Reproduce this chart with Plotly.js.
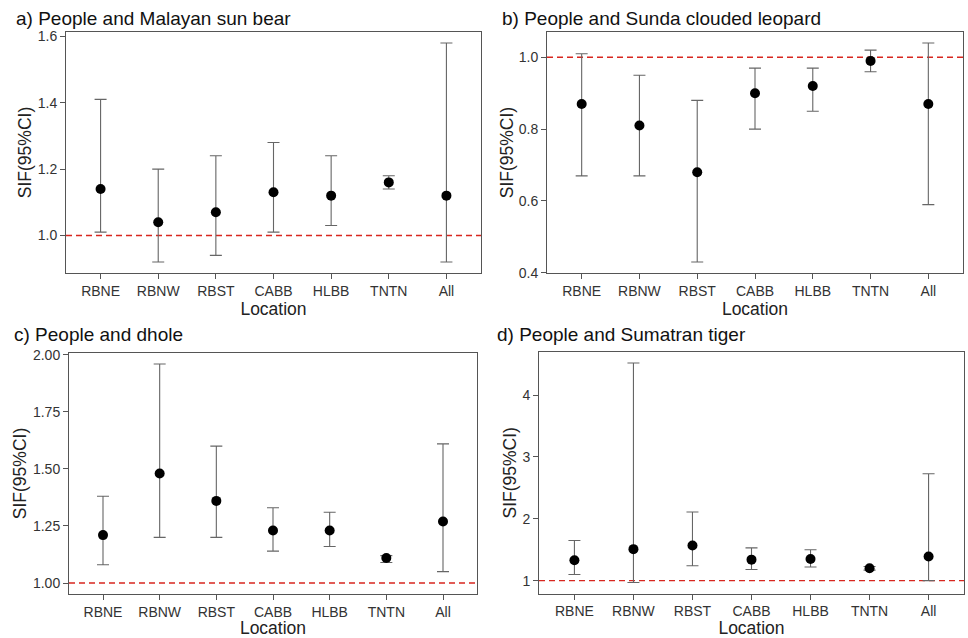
<!DOCTYPE html>
<html><head><meta charset="utf-8">
<script src="https://cdn.plot.ly/plotly-3.0.1.min.js"></script>
<style>html,body{margin:0;padding:0;background:#fff}#chart{width:968px;height:638px}</style>
</head><body><div id="chart"></div>
<script>
// ---- data ----
const locations = ['RBNE', 'RBNW', 'RBST', 'CABB', 'HLBB', 'TNTN', 'All'];
const panelTitles = ['a) People and Malayan sun bear', 'b) People and Sunda clouded leopard',
                     'c) People and dhole', 'd) People and Sumatran tiger'];
const xTitle = 'Location';
const yTitle = 'SIF(95%CI)';

const sunBearSIF   = [1.14, 1.04, 1.07, 1.13, 1.12, 1.16, 1.12];
const sunBearLower = [1.01, 0.92, 0.94, 1.01, 1.03, 1.14, 0.92];
const sunBearUpper = [1.41, 1.20, 1.24, 1.28, 1.24, 1.18, 1.58];

const leopardSIF   = [0.87, 0.81, 0.68, 0.90, 0.92, 0.99, 0.87];
const leopardLower = [0.67, 0.67, 0.43, 0.80, 0.85, 0.96, 0.59];
const leopardUpper = [1.01, 0.95, 0.88, 0.97, 0.97, 1.02, 1.04];

const dholeSIF   = [1.21, 1.48, 1.36, 1.23, 1.23, 1.11, 1.27];
const dholeLower = [1.08, 1.20, 1.20, 1.14, 1.16, 1.09, 1.05];
const dholeUpper = [1.38, 1.96, 1.60, 1.33, 1.31, 1.12, 1.61];

const tigerSIF   = [1.33, 1.51, 1.57, 1.34, 1.35, 1.20, 1.39];
const tigerLower = [1.10, 0.97, 1.24, 1.18, 1.22, 1.17, 1.00];
const tigerUpper = [1.65, 4.52, 2.11, 1.53, 1.50, 1.23, 2.73];

const yTicksA = [1.0, 1.2, 1.4, 1.6];
const yTicksB = [0.4, 0.6, 0.8, 1.0];
const yTicksC = [1.00, 1.25, 1.50, 1.75, 2.00];
const yTicksD = [1, 2, 3, 4];
const referenceSIF = 1;

// ---- build ----
const FONT = 'Liberation Sans, Arial, sans-serif';
const W = 968, H = 638;
const panels = [
  {est: sunBearSIF, lo: sunBearLower, hi: sunBearUpper, ticks: yTicksA, fmt: '.1f',
   box: [66, 481, 32, 273], title: [14, 18], ytx: 1},
  {est: leopardSIF, lo: leopardLower, hi: leopardUpper, ticks: yTicksB, fmt: '.1f',
   box: [547, 963, 32, 273], title: [500, 18], ytx: 0},
  {est: dholeSIF, lo: dholeLower, hi: dholeUpper, ticks: yTicksC, fmt: '.2f',
   box: [69, 477, 353, 594], title: [12, 334], ytx: 1},
  {est: tigerSIF, lo: tigerLower, hi: tigerUpper, ticks: yTicksD, fmt: 'd',
   box: [539, 964, 352, 593.5], title: [495, 334], ytx: 1}
];

const traces = [];
const layout = {
  width: W, height: H,
  margin: {l: 0, r: 0, t: 0, b: 0},
  paper_bgcolor: '#fff', plot_bgcolor: '#fff',
  showlegend: false,
  font: {family: FONT, color: '#222'},
  shapes: [], annotations: []
};

panels.forEach((p, i) => {
  const n = i + 1;
  const xa = 'xaxis' + (n === 1 ? '' : n), ya = 'yaxis' + (n === 1 ? '' : n);
  const xr = 'x' + (n === 1 ? '' : n), yr = 'y' + (n === 1 ? '' : n);
  traces.push({
    type: 'scatter', mode: 'markers', x: locations, y: p.est,
    xaxis: xr, yaxis: yr,
    marker: {color: '#000', size: 10},
    error_y: {type: 'data', symmetric: false,
      array: p.hi.map((v, k) => v - p.est[k]),
      arrayminus: p.est.map((v, k) => v - p.lo[k]),
      color: '#666', thickness: 1.1, width: 6},
    hoverinfo: 'x+y'
  });
  const lo = Math.min(...p.lo, referenceSIF), hi = Math.max(...p.hi, referenceSIF);
  const pad = (hi - lo) * 0.05;
  const [x0, x1, y0, y1] = p.box;
  layout[xa] = {
    domain: [x0 / W, x1 / W], anchor: yr,
    type: 'category', categoryorder: 'array', categoryarray: locations,
    range: [-0.6, locations.length - 0.4],
    showline: true, mirror: true, linecolor: '#555', linewidth: 1,
    ticks: 'outside', ticklen: 5, tickcolor: '#555', tickwidth: 1,
    tickfont: {size: 14, color: '#333', family: FONT},
    showgrid: false, zeroline: false, fixedrange: true,
    title: {text: xTitle, font: {size: 17.5, color: '#222', family: FONT}, standoff: 2}
  };
  layout[ya] = {
    domain: [1 - y1 / H, 1 - y0 / H], anchor: xr,
    range: [lo - pad, hi + pad],
    tickvals: p.ticks, tickformat: p.fmt,
    showline: true, mirror: true, linecolor: '#555', linewidth: 1,
    ticks: 'outside', ticklen: 5, tickcolor: '#555', tickwidth: 1,
    tickfont: {size: 14, color: '#333', family: FONT},
    showgrid: false, zeroline: false, fixedrange: true,
    title: {text: yTitle, font: {size: 17.5, color: '#222', family: FONT}, standoff: p.ytx}
  };
  layout.shapes.push({
    type: 'line', xref: xr + ' domain', yref: yr, x0: 0, x1: 1,
    y0: referenceSIF, y1: referenceSIF, layer: 'below',
    line: {color: '#d8261f', width: 1.4, dash: '6px,4px'}
  });
  layout.annotations.push({
    xref: 'paper', yref: 'paper', x: p.title[0] / W, y: 1 - p.title[1] / H,
    xanchor: 'left', yanchor: 'middle', showarrow: false,
    text: panelTitles[i], font: {size: 19, color: '#111', family: FONT}
  });
});

Plotly.newPlot('chart', traces, layout, {displayModeBar: false, staticPlot: false});
</script>
</body></html>
